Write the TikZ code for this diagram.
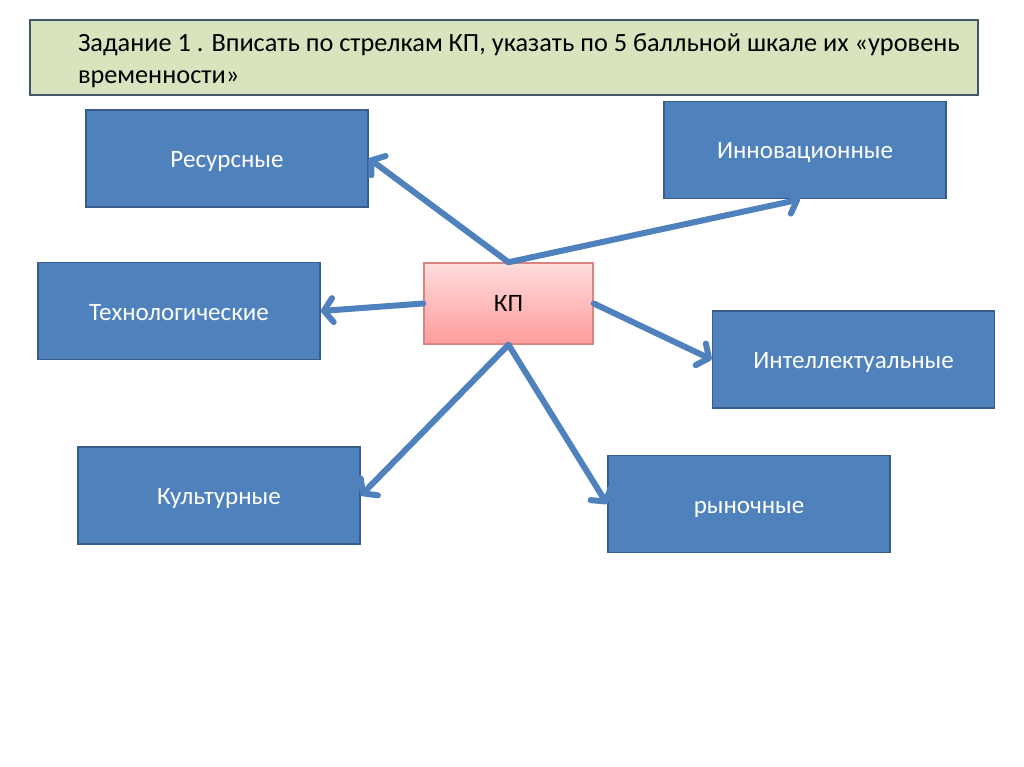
\documentclass[tikz,border=0pt]{standalone}
\usepackage{fontspec}
\setmainfont{Carlito}
\usetikzlibrary{arrows.meta}
\definecolor{boxblue}{HTML}{4F81BD}
\definecolor{boxline}{HTML}{385D8A}
\definecolor{titlefill}{HTML}{D7E4BD}
\definecolor{titleline}{HTML}{44546A}
\definecolor{kptop}{HTML}{FFDCDC}
\definecolor{kpbot}{HTML}{FF9C9C}
\definecolor{kpline}{HTML}{D98480}

\begin{document}
\begin{tikzpicture}[x=1pt,y=-1pt,-{Straight Barb[length=9pt,width=24pt,round]},line width=6pt,draw=boxblue,line cap=round]
\tikzstyle{every node}=[font=\fontsize{25}{31}\selectfont]
\tikzstyle{kind}=[rectangle,draw=boxline,line width=1.8pt,fill=boxblue,text=white,minimum width=282pt,minimum height=97pt,text height=18pt,text depth=0pt]
\useasboundingbox (0,0) rectangle (1024,767);
\fill[white] (0,0) rectangle (1024,767);
% task
\node[rectangle,draw=titleline,line width=2pt,fill=titlefill,minimum width=948pt,minimum height=75pt] (task) at (504,57.5) {};
\node[anchor=north west,align=left,inner sep=0pt,font=\fontsize{26.3}{31.5}\selectfont] (tasktext) at (75,31)
  {Задание 1 . Вписать по стрелкам КП, указать по 5 балльной шкале их «уровень\\временности»};
% centre
\node[rectangle,draw=kpline,line width=1.5pt,top color=kptop,bottom color=kpbot,minimum width=169pt,minimum height=81pt] (kp) at (508.5,303.5) {КП};
% kinds
\node[kind] (res) at (227,158.5) {Ресурсные};
\node[kind] (inn) at (805,150) {Инновационные};
\node[kind] (tech) at (179,311) {Технологические};
\node[kind] (int) at (853.5,359.5) {Интеллектуальные};
\node[kind] (cult) at (219,495.5) {Культурные};
\node[kind] (mark) at (749,504) {рыночные};
\path (kp.north) edge (res.east)
                 edge ([xshift=-5pt]inn.south)
      (kp.west) edge (tech.east)
      (kp.east) edge (int.west)
      (kp.south) edge (cult.east)
                 edge (mark.west);
\end{tikzpicture}
\end{document}
